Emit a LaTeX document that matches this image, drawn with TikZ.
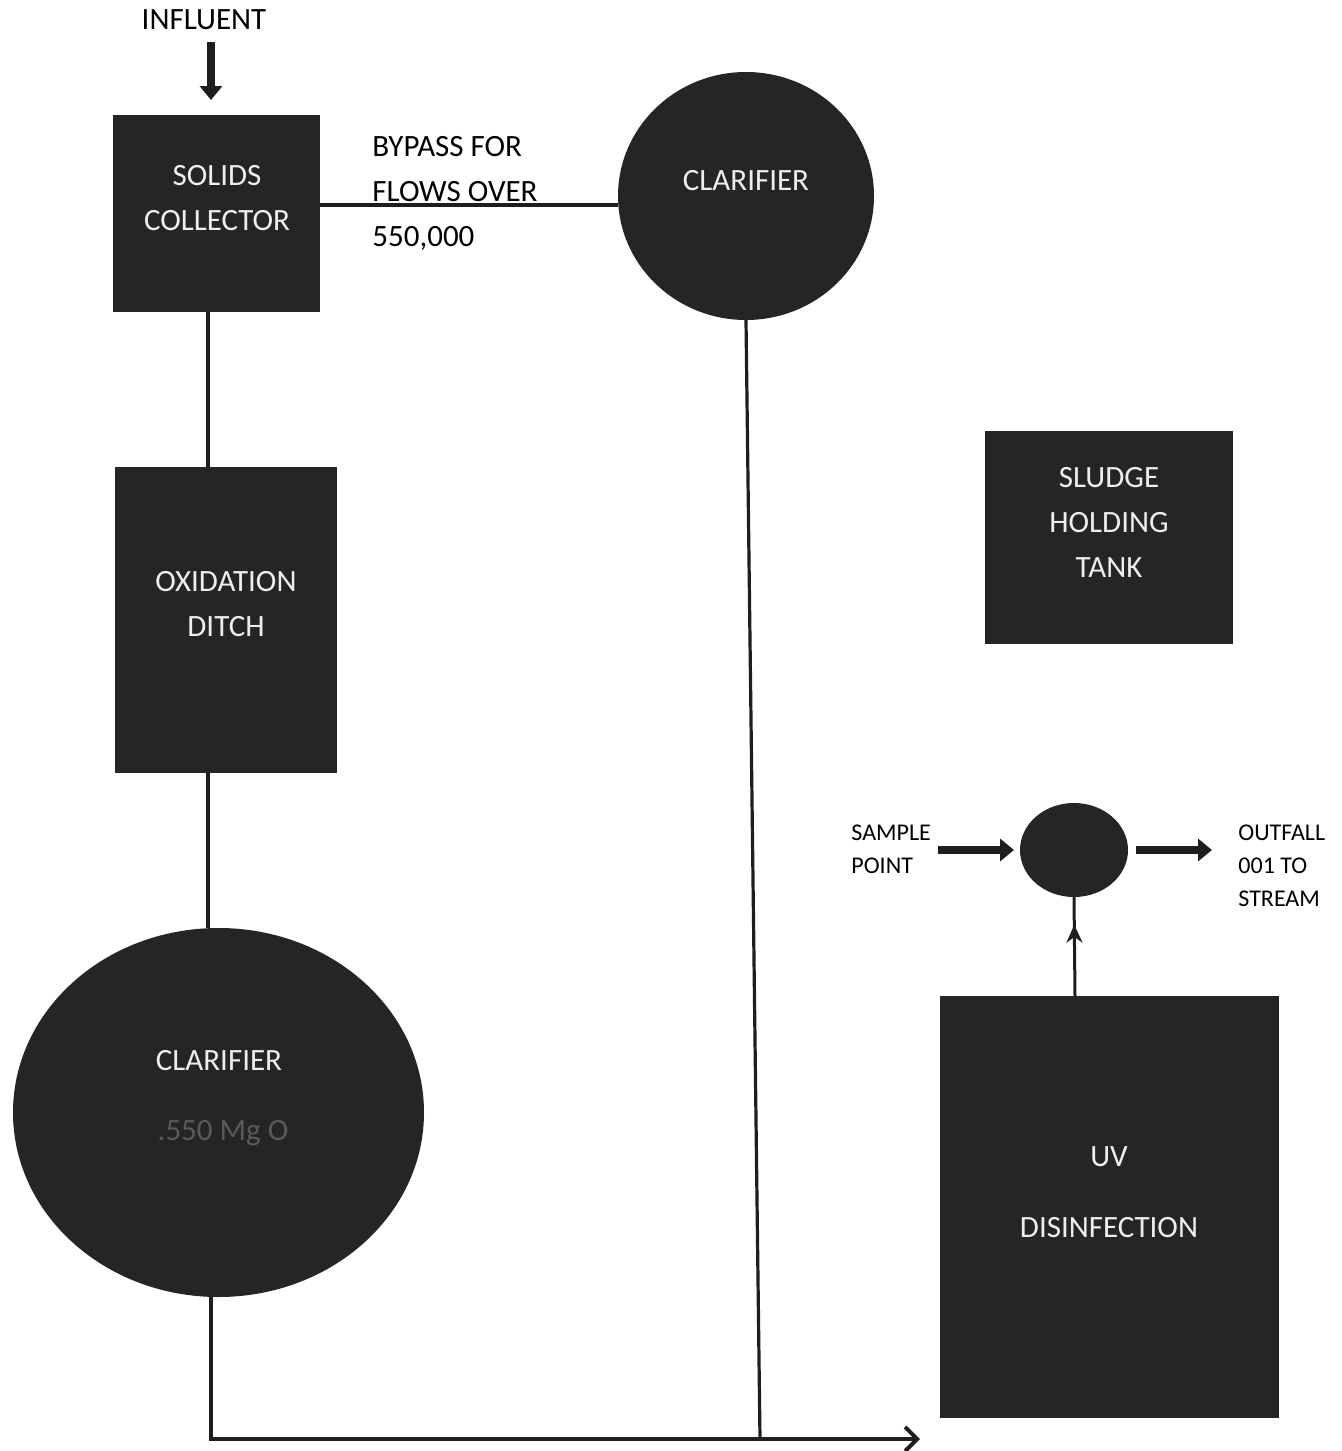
\documentclass[tikz,border=0pt]{standalone}
\usepackage{fontspec}
\setmainfont{Carlito}
\usetikzlibrary{shapes.geometric,arrows.meta,decorations.markings}
\definecolor{tankfill}{RGB}{36,37,36}
\definecolor{tanktext}{RGB}{238,238,238}
\definecolor{dimtext}{RGB}{90,90,90}
\definecolor{inkline}{RGB}{30,30,30}
\begin{document}
\begin{tikzpicture}[x=0.5pt,y=-0.5pt,
  tankbox/.style={rectangle,fill=tankfill,draw=none,inner sep=0pt,outer sep=0pt},
  tankell/.style={ellipse,fill=tankfill,draw=none,inner sep=0pt,outer sep=0pt},
  biglabel/.style={text=tanktext,align=center,font=\fontsize{15.5}{22.5}\selectfont,inner sep=0pt},
  plainlabel/.style={text=black,align=left,font=\fontsize{15.5}{22.5}\selectfont,inner sep=0pt},
  smalllabel/.style={text=black,align=left,font=\fontsize{12}{16.5}\selectfont,inner sep=0pt},
  pipe/.style={draw=inkline,line width=2pt},
  blockarrow/.style={draw=inkline,line width=4pt,-{Triangle[width=11pt,length=7pt]}},
  endarrow/.style={draw=inkline,line width=2pt,-{Straight Barb[length=6pt,width=12pt,line width=2pt]}}
]
\useasboundingbox (0,0) rectangle (1342,1451);
\fill[white] (0,0) rectangle (1342,1451);

% tanks
\node[tankbox,minimum width=103.5pt,minimum height=98.5pt] (solids) at (216.5,213.5) {};
\node[tankbox,minimum width=111pt,minimum height=153pt] (oxid) at (226,620) {};
\node[tankbox,minimum width=124pt,minimum height=106.5pt] (sludge) at (1109,537.5) {};
\node[tankbox,minimum width=169.5pt,minimum height=211pt] (uv) at (1109.5,1207) {};
\node[tankell,minimum width=128pt,minimum height=124pt] (clarA) at (746,196) {};
\node[tankell,minimum width=205.5pt,minimum height=184.5pt] (clarB) at (218.5,1112.5) {};
\node[tankell,minimum width=54pt,minimum height=47pt] (sample) at (1074,850) {};

% labels in tanks
\node[biglabel] (tsolids) at (217,198.5) {SOLIDS\\COLLECTOR};
\node[biglabel] (toxid) at (226,604.5) {OXIDATION\\DITCH};
\node[biglabel] (tsludge) at (1109,522.5) {SLUDGE\\HOLDING\\TANK};
\node[biglabel] (tuv1) at (1109,1157) {UV};
\node[biglabel] (tuv2) at (1109,1228) {DISINFECTION};
\node[biglabel] (tclarA) at (746,181) {CLARIFIER};
\node[biglabel] (tclarB) at (219,1061) {CLARIFIER};
\node[biglabel,text=dimtext] (tclarB2) at (223,1133) {.550 Mg O};

% free labels
\node[plainlabel] (tinf) at (204,20) {INFLUENT};
\node[plainlabel,anchor=west] (tbypass) at (372,193) {BYPASS FOR\\FLOWS OVER\\550,000};
\node[smalllabel,anchor=west] (tsp) at (851,849.5) {SAMPLE\\POINT};
\node[smalllabel,anchor=west] (tout) at (1238,865.5) {OUTFALL\\001 TO\\STREAM};

% helper coordinates
\coordinate (lineA) at (208,0);
\coordinate (lineB) at (211,0);
\coordinate (byY) at (0,205);
\coordinate (infStart) at (211,42);
\coordinate (corner) at (211,1439);
\coordinate (junc) at (760,1439);
\coordinate (outEnd) at (920,1439);
\coordinate (spStart) at (938,850);
\coordinate (ofEnd) at (1212,850);
\coordinate (uvX) at (1075,0);

% connectors
\draw[blockarrow,shorten >=7.5pt] (infStart) -- (solids.north -| infStart);
\draw[pipe] (solids.east |- byY) -- (clarA.west |- byY);
\draw[pipe] (solids.south -| lineA) -- (oxid.north -| lineA);
\draw[pipe] (oxid.south -| lineA) -- (clarB.north -| lineA);
\draw[pipe,line width=1.6pt] (clarA.south) -- (junc);
\draw[endarrow] (clarB.south -| lineB) -- (corner) -- (outEnd);
\draw[blockarrow,shorten >=3pt] (spStart) -- (sample.west);
\draw[blockarrow,shorten <=4pt] (sample.east) -- (ofEnd);
\draw[pipe,line width=1.5pt,
  postaction={decorate},
  decoration={markings,mark=at position 0.72 with {\arrow{Stealth[length=9pt,width=8pt]}}}]
  (uv.north -| uvX) -- (sample.south);
\end{tikzpicture}
\end{document}
